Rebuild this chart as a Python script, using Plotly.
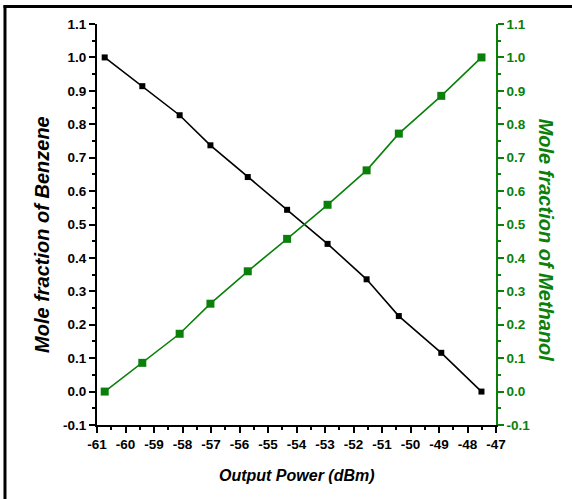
import plotly.graph_objects as go

# ---- data ----
power_dbm = [-60.73, -59.41, -58.10, -57.02, -55.71, -54.33, -52.91, -51.54, -50.41, -48.92, -47.51]
benzene = [1.0, 0.914, 0.827, 0.737, 0.642, 0.544, 0.442, 0.336, 0.226, 0.116, 0.0]
methanol = [0.0, 0.086, 0.173, 0.263, 0.360, 0.457, 0.559, 0.662, 0.772, 0.885, 1.0]

x_tick_vals = [-61, -60, -59, -58, -57, -56, -55, -54, -53, -52, -51, -50, -49, -48, -47]
x_tick_text = ["-61", "-60", "-59", "-58", "-57", "-56", "-55", "-54", "-53", "-52", "-51", "-50", "-49", "-48", "-47"]
y_tick_vals = [-0.1, 0.0, 0.1, 0.2, 0.3, 0.4, 0.5, 0.6, 0.7, 0.8, 0.9, 1.0, 1.1]
y_tick_text = ["-0.1", "0.0", "0.1", "0.2", "0.3", "0.4", "0.5", "0.6", "0.7", "0.8", "0.9", "1.0", "1.1"]

x_title = "Output Power (dBm)"
y1_title = "Mole fraction of Benzene"
y2_title = "Mole fraction of Methanol"

GREEN = "#0a800a"
FONT = "Liberation Sans"

x_minor = [v + 0.5 for v in x_tick_vals[:-1]]
y_minor = [round(v + 0.05, 3) for v in y_tick_vals[:-1]]

fig = go.Figure()
fig.add_trace(go.Scatter(
    x=power_dbm, y=benzene, mode="lines+markers",
    line=dict(color="black", width=1.6),
    marker=dict(symbol="square", size=6, color="black"),
    showlegend=False, xaxis="x", yaxis="y"))
fig.add_trace(go.Scatter(
    x=power_dbm, y=methanol, mode="lines+markers",
    line=dict(color=GREEN, width=1.6),
    marker=dict(symbol="square", size=8, color=GREEN),
    showlegend=False, xaxis="x", yaxis="y2"))

tickfont = dict(family=FONT, size=13.5, weight="bold", color="black")

fig.update_layout(
    width=572, height=499, autosize=False,
    margin=dict(l=97, r=76, t=24, b=74),
    paper_bgcolor="white", plot_bgcolor="white",
    xaxis=dict(
        range=[-61, -47], tickmode="array", tickvals=x_tick_vals, ticktext=x_tick_text,
        ticks="outside", ticklen=6, tickwidth=1.5, tickcolor="black",
        showline=True, linecolor="black", linewidth=2, showgrid=False, zeroline=False,
        tickfont=tickfont,
        minor=dict(tickmode="array", tickvals=x_minor, ticks="outside", ticklen=3,
                   tickwidth=1.5, tickcolor="black", showgrid=False),
    ),
    xaxis2=dict(
        range=[-61, -47], overlaying="x", side="top", tickmode="array",
        tickvals=x_tick_vals, showticklabels=False,
        ticks="inside", ticklen=6, tickwidth=1.5, tickcolor="black",
        showline=True, linecolor="black", linewidth=2, showgrid=False, zeroline=False,
        minor=dict(tickmode="array", tickvals=x_minor, ticks="inside", ticklen=3,
                   tickwidth=1.5, tickcolor="black", showgrid=False),
    ),
    yaxis=dict(
        range=[-0.1, 1.1], tickmode="array", tickvals=y_tick_vals, ticktext=y_tick_text,
        ticks="outside", ticklen=6, tickwidth=1.5, tickcolor="black",
        showline=True, linecolor="black", linewidth=2, showgrid=False, zeroline=False,
        tickfont=tickfont,
        minor=dict(tickmode="array", tickvals=y_minor, ticks="outside", ticklen=3,
                   tickwidth=1.5, tickcolor="black", showgrid=False),
    ),
    yaxis2=dict(
        range=[-0.1, 1.1], overlaying="y", side="right", tickmode="array",
        tickvals=y_tick_vals, ticktext=y_tick_text,
        ticks="outside", ticklen=6, tickwidth=1.5, tickcolor=GREEN,
        showline=True, linecolor=GREEN, linewidth=1.5, showgrid=False, zeroline=False,
        tickfont=dict(family=FONT, size=13.5, weight="bold", color=GREEN),
        minor=dict(tickmode="array", tickvals=y_minor, ticks="outside", ticklen=3,
                   tickwidth=1.5, tickcolor=GREEN, showgrid=False),
    ),
    annotations=[
        dict(text=x_title, xref="paper", yref="paper", x=0.5, y=-0.1247,
             xanchor="center", yanchor="middle", showarrow=False,
             font=dict(family=FONT, size=16, weight="bold", style="italic", color="black")),
        dict(text=y1_title, xref="paper", yref="paper", x=-0.1378, y=0.474,
             xanchor="center", yanchor="middle", showarrow=False, textangle=-90,
             font=dict(family=FONT, size=20, weight="bold", style="italic", color="black")),
        dict(text=y2_title, xref="paper", yref="paper", x=1.124, y=0.461,
             xanchor="center", yanchor="middle", showarrow=False, textangle=90,
             font=dict(family=FONT, size=20, weight="bold", style="italic", color=GREEN)),
    ],
    shapes=[
        dict(type="line", xref="paper", yref="paper", x0=-0.2306, x1=-0.2306,
             y0=1.047, y1=-0.19, line=dict(color="black", width=3)),
        dict(type="line", xref="paper", yref="paper", x0=-0.2343, x1=1.2,
             y0=1.0436, y1=1.0436, line=dict(color="black", width=3)),
    ],
)

fig.write_html("out.html", config={"displayModeBar": False},
               post_script="document.body.style.margin='0';")
